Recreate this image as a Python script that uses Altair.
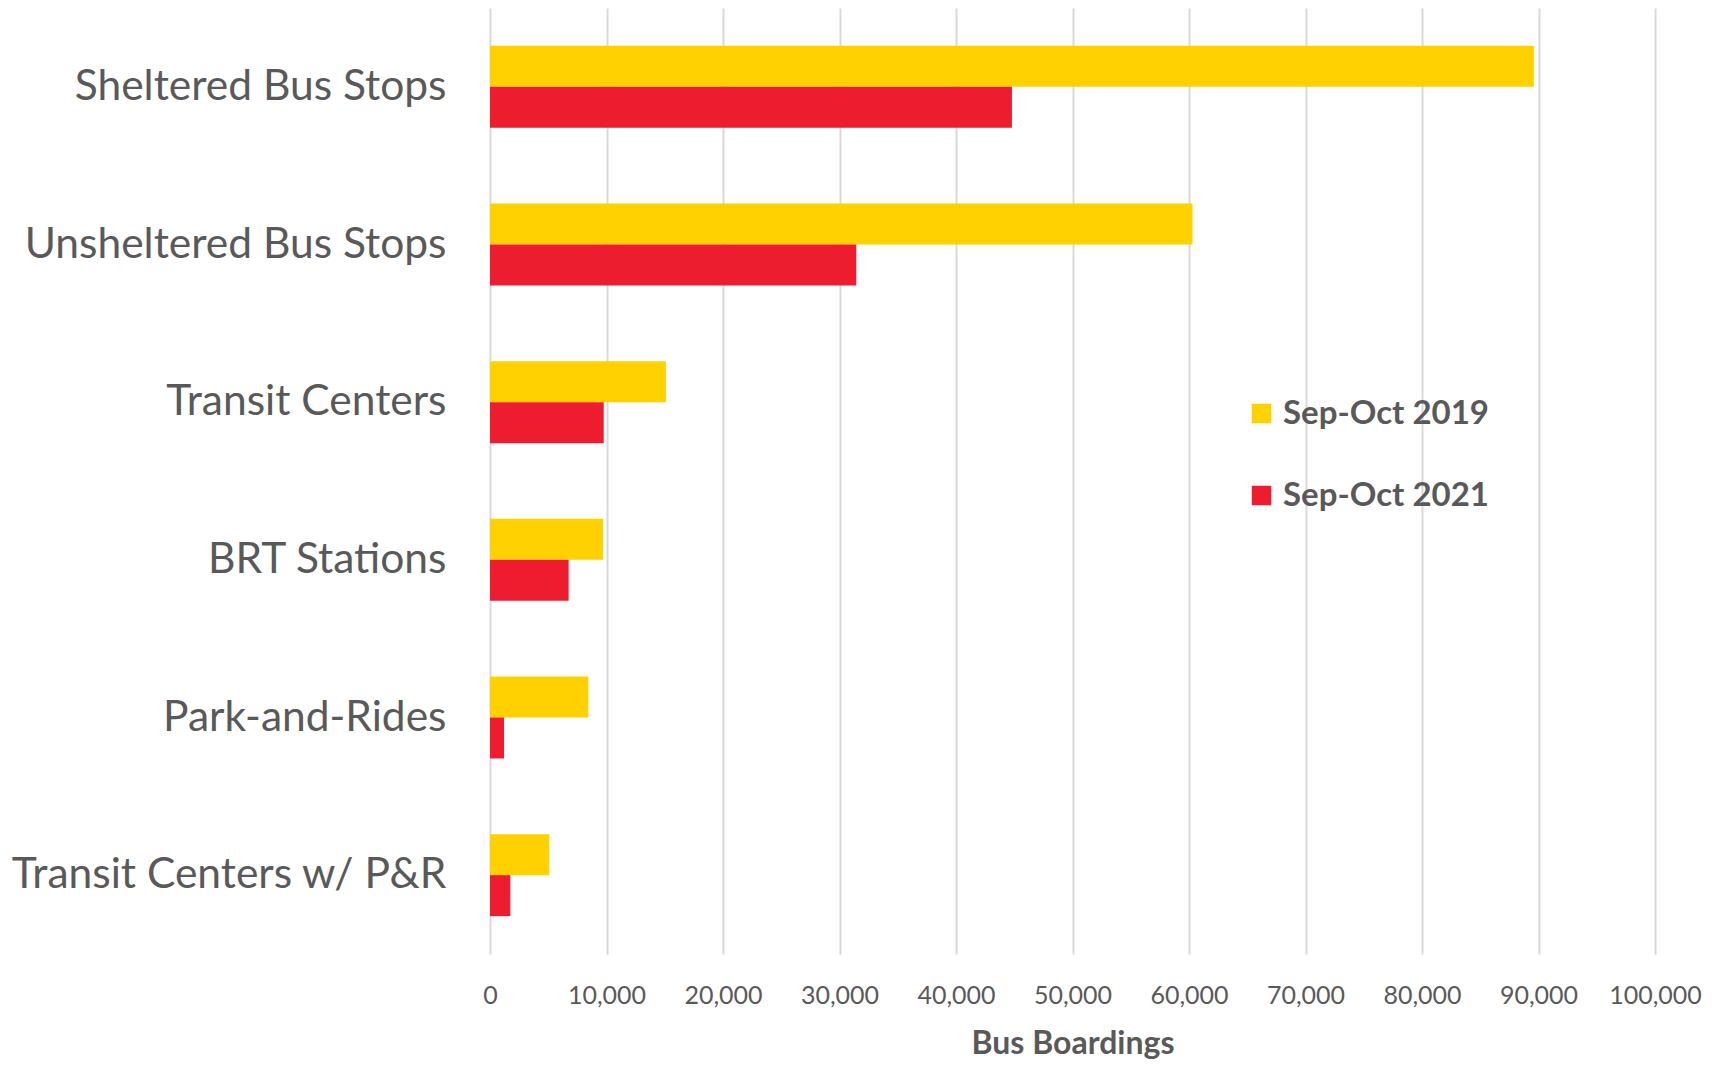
import altair as alt
import pandas as pd

categories = ["Sheltered Bus Stops", "Unsheltered Bus Stops", "Transit Centers",
              "BRT Stations", "Park-and-Rides", "Transit Centers w/ P&R"]
series = ["Sep-Oct 2019", "Sep-Oct 2021"]
values_2019 = [89600, 60300, 15100, 9700, 8440, 5090]
values_2021 = [44800, 31440, 9760, 6750, 1200, 1745]
x_ticks = [0, 10000, 20000, 30000, 40000, 50000, 60000, 70000, 80000, 90000, 100000]

rows = []
for c, a, b in zip(categories, values_2019, values_2021):
    rows.append({"cat": c, "series": series[0], "val": a})
    rows.append({"cat": c, "series": series[1], "val": b})
df = pd.DataFrame(rows)

FONT = "Lato"
TXT = "#595959"

chart = alt.Chart(df).mark_bar().encode(
    y=alt.Y("cat:N", sort=categories,
            scale=alt.Scale(paddingInner=0.48, paddingOuter=0.24),
            axis=alt.Axis(title=None, labelFontSize=42.5, labelColor=TXT, labelFont=FONT,
                          ticks=False, domain=False, labelPadding=44, labelLimit=700)),
    yOffset=alt.YOffset("series:N", sort=series),
    x=alt.X("val:Q", scale=alt.Scale(domain=[0, 100000], nice=False),
            axis=alt.Axis(title="Bus Boardings", values=x_ticks, format=",.0f",
                          labelFontSize=25, labelColor=TXT, labelFont=FONT, labelPadding=29,
                          labelOverlap=False, labelFlush=False,
                          titleFontSize=32, titleColor=TXT, titleFont=FONT, titleFontWeight="bold",
                          titlePadding=20, ticks=False, domain=False,
                          grid=True, gridColor="#D9D9D9", gridWidth=2)),
    color=alt.Color("series:N", sort=series,
                    scale=alt.Scale(domain=series, range=["#FFD100", "#ED1C2E"]),
                    legend=alt.Legend(title=None, orient="none", legendX=755, legendY=389,
                                      symbolType="square", symbolSize=380, symbolStrokeWidth=0,
                                      labelFontSize=33, labelFont=FONT, labelFontWeight="bold",
                                      labelColor=TXT, rowPadding=48, labelOffset=5,
                                      labelLimit=400)),
).properties(
    width=1165, height=946,
    autosize=alt.AutoSizeParams(type="none"),
    padding={"left": 482, "top": 0, "right": 52, "bottom": 105},
).configure_view(stroke=None).configure_axisY(grid=False)

chart.save("out.html", embed_options={"renderer": "svg", "actions": False})
